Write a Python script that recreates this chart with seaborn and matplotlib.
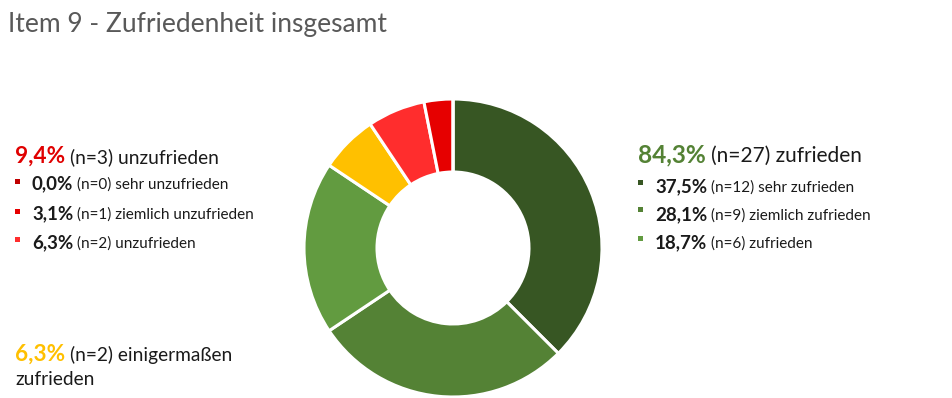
import matplotlib.pyplot as plt
import seaborn as sns
from matplotlib.patches import Rectangle

# Data
categories = ["sehr zufrieden", "ziemlich zufrieden", "zufrieden",
              "einigermaßen zufrieden", "unzufrieden", "ziemlich unzufrieden",
              "sehr unzufrieden"]
counts = [12, 9, 6, 2, 2, 1, 0]
pct_labels = ["37,5%", "28,1%", "18,7%", "6,3%", "6,3%", "3,1%", "0,0%"]
slice_colors = ["#375623", "#548235", "#629B40", "#FFC000", "#FF2D2D", "#E60000", "#C00000"]

group_pos = ("84,3%", 27, "zufrieden")
group_neg = ("9,4%", 3, "unzufrieden")
group_mid = ("6,3%", 2, "einigermaßen")

title = "Item 9 - Zufriedenheit insgesamt"

sns.set_theme(style="white")
plt.rcParams['font.family'] = ['Lato', 'DejaVu Sans']

W, H = 953, 398
fig = plt.figure(figsize=(W / 100, H / 100), dpi=100)
renderer = fig.canvas.get_renderer()

# donut
cx, cy, r = 453, 248, 149
ax = fig.add_axes([(cx - r) / W, 1 - (cy + r) / H, 2 * r / W, 2 * r / H])
ax.pie(counts, colors=slice_colors, startangle=90, counterclock=False,
       wedgeprops=dict(width=0.49, edgecolor="white", linewidth=2.2))
ax.set_xlim(-1.0, 1.0)
ax.set_ylim(-1.0, 1.0)
ax.axis("off")


def rich_text(x_px, y_px, segments, gap=5):
    x = x_px
    for s, size, weight, color in segments:
        t = fig.text(x / W, 1 - y_px / H, s, fontsize=size, fontweight=weight,
                     color=color, ha="left", va="baseline")
        bb = t.get_window_extent(renderer)
        x = bb.x1 + gap


def square(x_px, y_px, color, s=5):
    fig.patches.append(Rectangle(((x_px - s / 2) / W, 1 - (y_px + s / 2) / H),
                                 s / W, s / H, transform=fig.transFigure,
                                 facecolor=color, edgecolor="none"))


fig.text(8 / W, 1 - 32 / H, title, fontsize=19, color="#595959",
         ha="left", va="baseline")

txt = "#1a1a1a"
head_big, head_small = 16.3, 13.8
row_big, row_small = 13.5, 11

# left block (unzufrieden)
rich_text(15, 163, [(group_neg[0], head_big, "bold", "#E00000"),
                    (f"(n={group_neg[1]}) {group_neg[2]}", head_small, "normal", txt)])
left_rows = [(6, 189), (5, 219), (4, 248)]
for i, y in left_rows:
    square(17.5, y - 8, slice_colors[i])
    rich_text(32, y, [(pct_labels[i], row_big, "bold", txt),
                      (f"(n={counts[i]}) {categories[i]}", row_small, "normal", txt)], gap=4)

# right block (zufrieden)
rich_text(638, 162, [(group_pos[0], 17.6, "bold", "#548235"),
                     (f"(n={group_pos[1]}) {group_pos[2]}", 15, "normal", txt)])
right_rows = [(0, 192), (1, 220), (2, 248)]
for i, y in right_rows:
    square(640.5, y - 10, slice_colors[i])
    rich_text(655, y, [(pct_labels[i], row_big, "bold", txt),
                       (f"(n={counts[i]}) {categories[i]}", row_small, "normal", txt)], gap=4)

# bottom-left (einigermaßen)
rich_text(15, 361, [(group_mid[0], head_big, "bold", "#FFC000"),
                    (f"(n={group_mid[1]}) {group_mid[2]}", head_small, "normal", txt)])
fig.text(15 / W, 1 - 385 / H, "zufrieden", fontsize=head_small, color=txt,
         ha="left", va="baseline")

fig.savefig("out.png", dpi=100, facecolor="white")
